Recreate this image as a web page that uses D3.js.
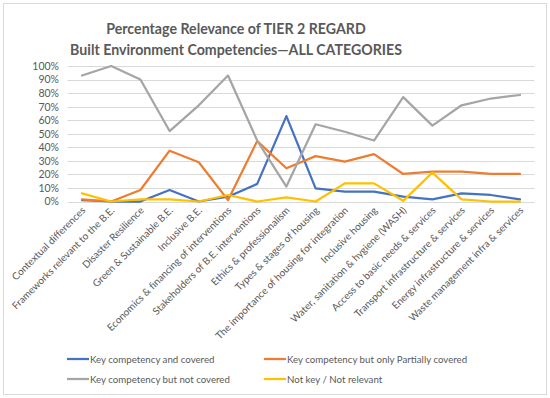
<!DOCTYPE html>
<meta charset="utf-8">
<html>
<head>
<title>Percentage Relevance of TIER 2 REGARD</title>
<script src="https://cdn.jsdelivr.net/npm/d3@7"></script>
<style>
    *{ margin:0; padding:0;}
    body{ background:#fff; }
    text{ font-family:Lato, 'Open Sans', sans-serif; fill:#595959; }
</style>
</head>
<body>
<div id="chart"></div>
<script>
// categories (x axis)
var categories = [
    "Contextual differences",
    "Frameworks relevant to the B.E.",
    "Disaster Resilience",
    "Green & Sustainable B.E.",
    "Inclusive B.E.",
    "Economics & financing of interventions",
    "Stakeholders of B.E. interventions",
    "Ethics & professionalism",
    "Types & stages of housing",
    "The importance of housing for integration",
    "Inclusive housing",
    "Water, sanitation & hygiene (WASH)",
    "Access to basic needs & services",
    "Transport infrastructure & services",
    "Energy infrastructure & services",
    "Waste management infra & services"
];

// series values, percent
var keyCovered     = [1, 0, 0, 8.5, 0, 3.5, 13, 63, 9.7, 7.3, 7.3, 3.6, 1.6, 6, 4.8, 1.6];
var keyPartial     = [1.5, 0, 8.5, 37.5, 29, 1, 44.6, 24.5, 33.5, 29.4, 35, 20.3, 22, 22, 20.3, 20.3];
var keyNotCovered  = [93, 100, 90, 52, 71, 93, 45, 11, 57, 51.5, 45, 77, 56, 71, 76, 78.6];
var notKey         = [6, 0, 1.6, 1.6, 0, 4.8, 0, 3, 0, 13.4, 13.4, 0.5, 21.3, 1.6, 0, 0];

var seriesNames  = ["Key competency and covered", "Key competency but only Partially covered",
                    "Key competency but not covered", "Not key / Not relevant"];
var seriesColors = ["#4472C4", "#ED7D31", "#A5A5A5", "#FFC000"];
var seriesData   = [keyCovered, keyPartial, keyNotCovered, notKey];

var yTicks = [0, 10, 20, 30, 40, 50, 60, 70, 80, 90, 100];

var W = 550, H = 398;
var svg = d3.select("#chart").append("svg").attr("width", W).attr("height", H);

// outer border
svg.append("rect").attr("x", 3.5).attr("y", 3.5).attr("width", 543).attr("height", 391)
    .attr("fill", "#fff").attr("stroke", "#d9d9d9");

// title
svg.append("text").attr("x", 236).attr("y", 34).attr("text-anchor", "middle")
    .style("font-size", "14.2px").style("font-weight", "bold").text("Percentage Relevance of TIER 2 REGARD");
svg.append("text").attr("x", 236).attr("y", 55).attr("text-anchor", "middle")
    .style("font-size", "14.2px").style("font-weight", "bold").text("Built Environment Competencies\u2014ALL CATEGORIES");

var x = d3.scalePoint().domain(categories).range([82, 520]);
var y = d3.scaleLinear().domain([0, 100]).range([201.5, 66]);

// gridlines
svg.append("g").selectAll("line").data(yTicks).enter().append("line")
    .attr("x1", 67.5).attr("x2", 534.5)
    .attr("y1", function (d) { return Math.round(y(d)) + 0.5; })
    .attr("y2", function (d) { return Math.round(y(d)) + 0.5; })
    .attr("stroke", "#d9d9d9").attr("stroke-width", 1);

// y axis labels
var yAxis = d3.axisLeft(y).tickValues(yTicks).tickSize(0).tickPadding(0)
    .tickFormat(function (d) { return d + "%"; });
var gy = svg.append("g").attr("transform", "translate(59,0)").call(yAxis);
gy.select(".domain").remove();
gy.selectAll("text").style("font-size", "10.5px").style("fill", "#595959")
    .style("font-family", "Lato, 'Open Sans', sans-serif");

// x axis labels, rotated
svg.append("g").selectAll("text").data(categories).enter().append("text")
    .attr("transform", function (d) { return "translate(" + (x(d) + 4) + ",211) rotate(-45)"; })
    .attr("text-anchor", "end")
    .style("font-size", "10px")
    .text(function (d) { return d; });

// lines
var line = d3.line()
    .x(function (d, i) { return x(categories[i]); })
    .y(function (d) { return y(d); });

seriesData.forEach(function (vals, k) {
    svg.append("path").datum(vals)
        .attr("d", line)
        .attr("fill", "none")
        .attr("stroke", seriesColors[k])
        .attr("stroke-width", 2.25)
        .attr("stroke-linejoin", "round")
        .attr("stroke-linecap", "round");
});

// legend
var legendPos = [[67, 359], [264, 359], [67, 379], [264, 379]];
seriesNames.forEach(function (name, k) {
    var p = legendPos[k];
    svg.append("line").attr("x1", p[0]).attr("x2", p[0] + 22)
        .attr("y1", p[1]).attr("y2", p[1])
        .attr("stroke", seriesColors[k]).attr("stroke-width", 2.25);
    svg.append("text").attr("x", p[0] + 23).attr("y", p[1] + 3.5)
        .style("font-size", "9.7px").text(name);
});
</script>
</body>
</html>
